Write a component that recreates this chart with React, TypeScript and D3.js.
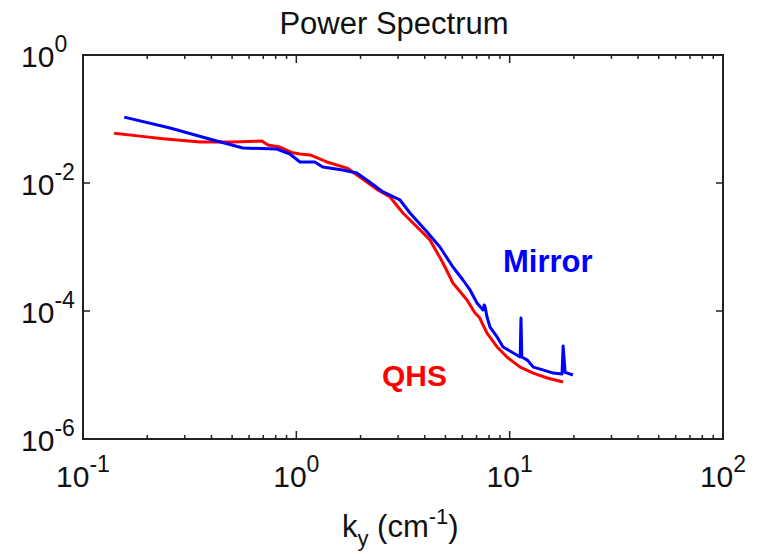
import React from "react";
import * as d3 from "d3";

// QHS (red) spectrum
const kQHS = [0.140, 0.185, 0.237, 0.353, 0.50, 0.690, 0.736, 0.838, 0.95, 1.04, 1.16, 1.39, 1.73, 2.14, 2.41, 2.75, 3.16, 3.68, 4.23, 4.87, 5.42, 6.31, 6.88, 7.2, 7.83, 8.73, 9.71, 11.2, 12.9, 15.0, 17.8];
const pQHS = [0.060, 0.054, 0.049, 0.0437, 0.0437, 0.0453, 0.0392, 0.0365, 0.030, 0.0284, 0.0274, 0.0213, 0.0171, 0.0104, 0.00778, 0.00604, 0.0034, 0.00205, 0.00129, 0.000562, 0.000274, 0.000149, 9.3e-5, 8.0e-5, 4.53e-5, 2.74e-5, 1.91e-5, 1.33e-5, 1.07e-5, 8.98e-6, 7.78e-6];

// Mirror (blue) spectrum
const kMirror = [0.156, 0.256, 0.407, 0.562, 0.811, 0.933, 1.04, 1.22, 1.33, 1.65, 1.92, 2.14, 2.55, 3.06, 3.41, 4.10, 4.71, 5.42, 6.04, 6.52, 7.03, 7.50, 7.60, 7.66, 7.83, 8.09, 8.73, 9.31, 10.4, 11.2, 11.3, 11.4, 12.1, 12.9, 14.3, 16.0, 17.6, 17.8, 18.2, 19.8];
const pMirror = [0.107, 0.0724, 0.047, 0.0352, 0.034, 0.0284, 0.0213, 0.0213, 0.0178, 0.016, 0.0143, 0.0111, 0.00724, 0.00543, 0.0034, 0.00171, 0.001, 0.000487, 0.000305, 0.000213, 0.000133, 0.000104, 0.000124, 0.000118, 8.06e-5, 5.62e-5, 3.93e-5, 2.74e-5, 2.21e-5, 1.91e-5, 7.78e-5, 1.91e-5, 1.71e-5, 1.33e-5, 1.2e-5, 1.07e-5, 1.04e-5, 2.84e-5, 1.1e-5, 1.0e-5];

const xTickExps = ["-1", "0", "1", "2"];
const yTickExps = ["0", "-2", "-4", "-6"];
const titleText = "Power Spectrum";
const seriesLabels = ["Mirror", "QHS"];

export default function App() {
  const W = 760, H = 554;
  const L = 83, R = 723, T = 55, B = 439;
  const x = d3.scaleLog().domain([0.1, 100]).range([L, R]);
  const y = d3.scaleLog().domain([1e-6, 1]).range([B, T]);

  const line = d3.line<[number, number]>()
    .x((d) => x(d[0]))
    .y((d) => y(d[1]));

  const qhs = kQHS.map((k, i) => [k, pQHS[i]] as [number, number]);
  const mir = kMirror.map((k, i) => [k, pMirror[i]] as [number, number]);

  const minorX: number[] = [];
  [0.1, 1, 10].forEach((dec) => {
    for (let m = 2; m <= 9; m++) minorX.push(dec * m);
  });
  const majorX = xTickExps.map((e) => Math.pow(10, +e));
  const majorY = yTickExps.map((e) => Math.pow(10, +e));

  const font = "Arial, 'Liberation Sans', Helvetica, sans-serif";

  return (
    <svg
      width={W}
      height={H}
      style={{ position: "absolute", left: 0, top: 0, background: "#fff" }}
      fontFamily={font}
    >
      <rect x={0} y={0} width={W} height={H} fill="#fff" />
      {/* title */}
      <text x={394} y={34} fontSize={31} textAnchor="middle" fill="#111">
        {titleText}
      </text>

      {/* data lines */}
      <path d={line(qhs) || ""} fill="none" stroke="#ff0000" strokeWidth={3} strokeLinejoin="round" />
      <path d={line(mir) || ""} fill="none" stroke="#0000ff" strokeWidth={3} strokeLinejoin="round" />

      {/* frame */}
      <rect x={L} y={T} width={R - L} height={B - T} fill="none" stroke="#222" strokeWidth={2} />

      {/* x ticks */}
      {minorX.map((v, i) => (
        <g key={"mx" + i}>
          <line x1={x(v)} x2={x(v)} y1={B} y2={B - 4} stroke="#222" strokeWidth={1.5} />
          <line x1={x(v)} x2={x(v)} y1={T} y2={T + 4} stroke="#222" strokeWidth={1.5} />
        </g>
      ))}
      {majorX.map((v, i) => (
        <g key={"Mx" + i}>
          <line x1={x(v)} x2={x(v)} y1={B} y2={B - 8} stroke="#222" strokeWidth={1.5} />
          <line x1={x(v)} x2={x(v)} y1={T} y2={T + 8} stroke="#222" strokeWidth={1.5} />
        </g>
      ))}
      {/* y ticks */}
      {majorY.map((v, i) => (
        <g key={"My" + i}>
          <line x1={L} x2={L + 7} y1={y(v)} y2={y(v)} stroke="#222" strokeWidth={1.5} />
          <line x1={R} x2={R - 7} y1={y(v)} y2={y(v)} stroke="#222" strokeWidth={1.5} />
        </g>
      ))}

      {/* x tick labels */}
      {xTickExps.map((e, i) => (
        <text key={"xl" + i} x={x(majorX[i])} y={487} fontSize={30} textAnchor="middle" fill="#111">
          10
          <tspan dy={-15} fontSize={23}>{e}</tspan>
        </text>
      ))}
      {/* y tick labels */}
      {yTickExps.map((e, i) => (
        <text key={"yl" + i} x={21} y={y(majorY[i]) + 12} fontSize={30} textAnchor="start" fill="#111">
          10
          <tspan dy={-15} fontSize={23}>{e}</tspan>
        </text>
      ))}

      {/* x axis label */}
      <text x={342} y={537} fontSize={31} fill="#111">
        k
        <tspan dy={9} fontSize={22}>y</tspan>
        <tspan dy={-9}> (cm</tspan>
        <tspan dy={-13} fontSize={22}>-1</tspan>
        <tspan dy={13}>)</tspan>
      </text>

      {/* series labels */}
      <text x={503} y={272} fontSize={31} fontWeight="bold" fill="#0000ff">
        {seriesLabels[0]}
      </text>
      <text x={382} y={386} fontSize={30} fontWeight="bold" fill="#ff0000">
        {seriesLabels[1]}
      </text>
    </svg>
  );
}
